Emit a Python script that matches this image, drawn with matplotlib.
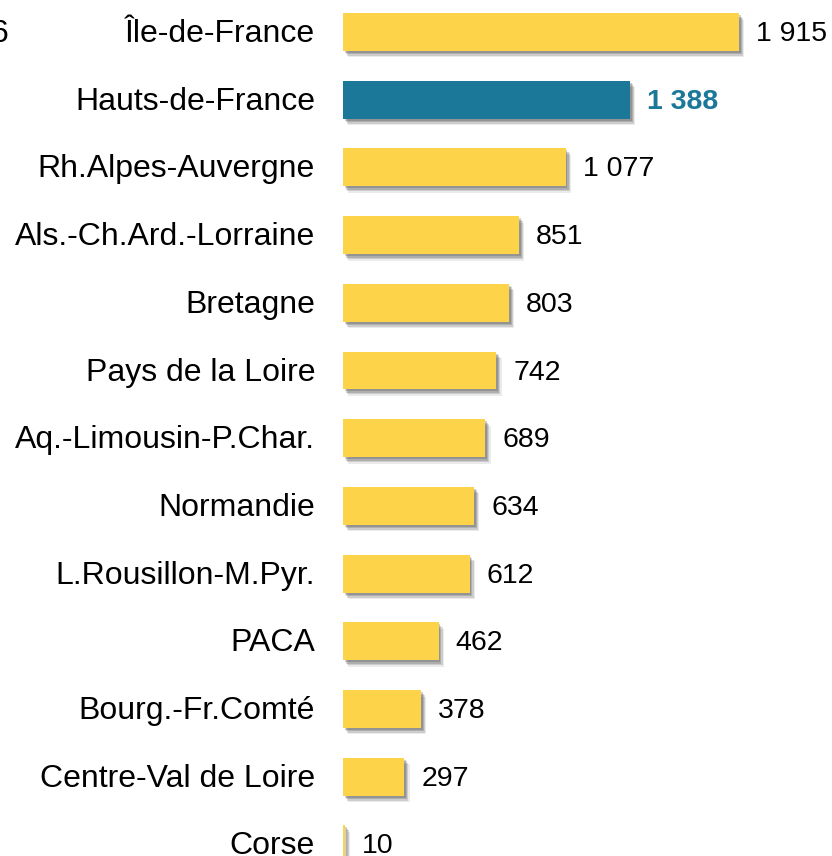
import matplotlib
matplotlib.use("Agg")
import matplotlib.pyplot as plt

regions = ["Île-de-France", "Hauts-de-France", "Rh.Alpes-Auvergne",
           "Als.-Ch.Ard.-Lorraine", "Bretagne", "Pays de la Loire",
           "Aq.-Limousin-P.Char.", "Normandie", "L.Rousillon-M.Pyr.",
           "PACA", "Bourg.-Fr.Comté", "Centre-Val de Loire", "Corse"]
values = [1915, 1388, 1077, 851, 803, 742, 689, 634, 612, 462, 378, 297, 10]
highlight = "Hauts-de-France"

yellow = "#fdd34a"
blue = "#1c7899"

plt.rcParams['font.family'] = ['Liberation Sans', 'DejaVu Sans']

W, H = 832, 856
fig = plt.figure(figsize=(W / 100, H / 100), dpi=100)

# axes placed in pixel terms so the bottom row runs past the image edge
px_per_unit = 396 / 1915
row_px = 67.7
x0 = 343
xmax = 2000
top_px = 32 - 0.5 * row_px
bot_px = 32 + (len(regions) - 0.5) * row_px
ax = fig.add_axes([x0 / W, 1 - bot_px / H,
                   xmax * px_per_unit / W, (bot_px - top_px) / H])
ax.set_xlim(0, xmax)
ax.set_ylim(len(regions) - 0.5, -0.5)
ax.axis("off")

pos = list(range(len(regions)))
bar_h = 0.56
dx = 4 / px_per_unit
dy = 5 / row_px
ty = 2 / row_px  # nudge text down a little

# soft drop shadow
for k, a in [(1.3, 0.10), (1.0, 0.18), (0.7, 0.22), (0.4, 0.25)]:
    ax.barh([p + dy * k for p in pos], values, height=bar_h, left=dx * k,
            color="#444444", alpha=a, zorder=1, linewidth=0)

colors = [blue if r == highlight else yellow for r in regions]
ax.barh(pos, values, height=bar_h, color=colors, zorder=2, linewidth=0)

for p, r, v in zip(pos, regions, values):
    ax.text(-28 / px_per_unit, p + ty, r, ha="right", va="center",
            fontsize=23, color="black")
    lab = f"{v:,}".replace(",", " ")
    if r == highlight:
        ax.text(v + 17 / px_per_unit, p + ty, lab, ha="left", va="center",
                fontsize=20.5, color=blue, fontweight="bold")
    else:
        ax.text(v + 17 / px_per_unit, p + ty, lab, ha="left", va="center",
                fontsize=20.5, color="black")

# fragment of a label cut by the left edge
fig.text(8 / W, 1 - 34 / H, "6", ha="right", va="center", fontsize=23)

fig.savefig("out.png", dpi=100)
